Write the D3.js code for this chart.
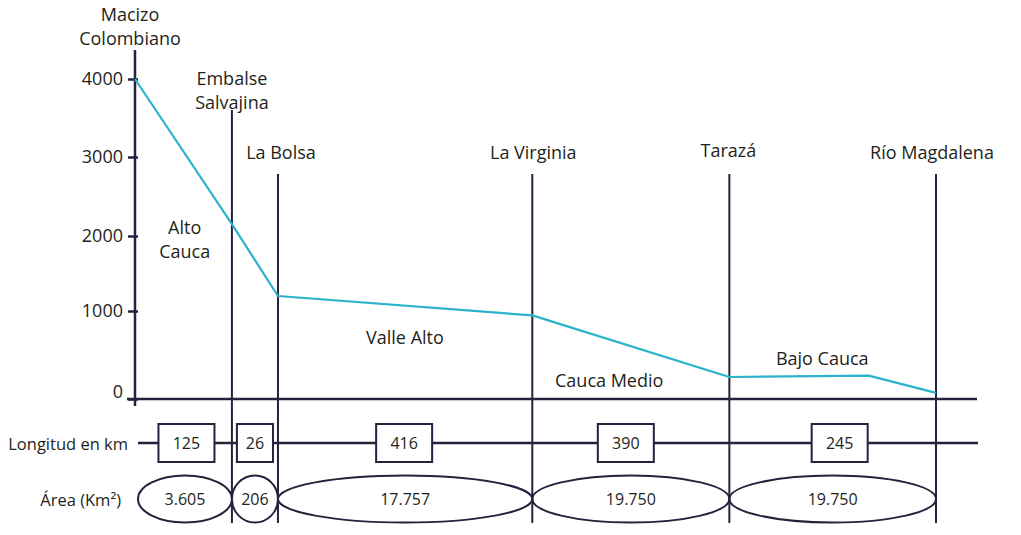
<!DOCTYPE html>
<html lang="es">
<head>
<meta charset="utf-8">
<title>Perfil del río Cauca</title>
<script src="https://cdn.jsdelivr.net/npm/d3@7"></script>
<style>
  html, body { margin: 0; padding: 0; background: #fff; }
  #perfil { display: block; }
  #perfil text { font-family: "Open Sans", "DejaVu Sans", sans-serif; fill: #231f20; }
</style>
</head>
<body>
<svg id="perfil" width="1021" height="535"></svg>
<script>
// stations along the river, schematic position in % of drawing length
var STATIONS    = [['Macizo', 'Colombiano'], ['Embalse', 'Salvajina'], ['La Bolsa'], ['La Virginia'], ['Tarazá'], ['Río Magdalena']];
var STATION_POS = [0, 12.1, 17.85, 49.6, 74.2, 100];

// elevation profile (msnm)
var PROFILE_POS  = [0, 12.1, 17.85, 49.6, 74.2, 91.6, 100];
var PROFILE_ELEV = [4000, 2150, 1200, 950, 250, 265, 70];

var ELEV_TICKS = [0, 1000, 2000, 3000, 4000];

// stretches between stations
var SEG_LENGTH = [125, 26, 416, 390, 245];
var SEG_AREA   = [3605, 206, 17757, 19750, 19750];

// region names (position in % / elevation of first line)
var REGIONS     = [['Alto', 'Cauca'], ['Valle Alto'], ['Cauca Medio'], ['Bajo Cauca']];
var REGION_POS  = [6.2, 33.7, 59.2, 85.8];
var REGION_ELEV = [2030, 625, 136, 386];

document.addEventListener('DOMContentLoaded', function () {

    var INK  = '#25223d';
    var CYAN = '#2ab3cb';

    var svg = d3.select('#perfil');

    var x = d3.scaleLinear().domain([0, 100]).range([135, 936]);
    // drawn axis is not quite even, so a polylinear scale
    var y = d3.scaleLinear().domain(ELEV_TICKS).range([399, 311, 236, 157, 79]);

    var esp = d3.formatLocale({ decimal: ',', thousands: '.', grouping: [3], currency: ['', ''] });
    var fmtArea = esp.format(',d');

    var BOTTOM   = 523;
    var LONG_Y   = 443;
    var AREA_Y   = 499;
    var lineTop  = [50, 110, 174, 174, 174, 174];
    var labelBot = [45, 109, 159, 159, 157, 159];
    var labelDx  = [-5, 0, 3, 1, -1, -4];
    var boxDx    = [3, 0, -1, -5, 7];

    // ===== station verticals =====
    STATION_POS.forEach(function (p, i) {
        if (i === 0) return;
        svg.append('line')
            .attr('x1', x(p)).attr('x2', x(p))
            .attr('y1', lineTop[i]).attr('y2', BOTTOM)
            .attr('stroke', INK).attr('stroke-width', 2);
    });

    // y axis line
    svg.append('line')
        .attr('x1', x(0)).attr('x2', x(0))
        .attr('y1', lineTop[0]).attr('y2', 406)
        .attr('stroke', INK).attr('stroke-width', 2.5);

    var yAxis = d3.axisLeft(y)
        .tickValues(ELEV_TICKS)
        .tickSize(10)
        .tickPadding(5)
        .tickFormat(d3.format('d'));

    var gy = svg.append('g')
        .attr('transform', 'translate(' + (x(0) + 3) + ',0)')
        .call(yAxis);
    gy.select('.domain').remove();
    gy.selectAll('.tick line').attr('stroke', INK).attr('stroke-width', 2.5);
    gy.selectAll('.tick text')
        .style('font-size', '18px')
        .style('font-family', '"Open Sans", sans-serif')
        .attr('fill', '#231f20');
    gy.selectAll('.tick').filter(function (d) { return d === 0; })
        .select('text').attr('y', -7);

    // x axis (0 m)
    svg.append('line')
        .attr('x1', 127).attr('x2', 977)
        .attr('y1', y(0)).attr('y2', y(0))
        .attr('stroke', INK).attr('stroke-width', 2.5);

    // ===== station labels =====
    STATIONS.forEach(function (lines, i) {
        var t = svg.append('text')
            .attr('text-anchor', 'middle')
            .style('font-size', '18px');
        lines.forEach(function (s, k) {
            t.append('tspan')
                .attr('x', x(STATION_POS[i]) + labelDx[i])
                .attr('y', labelBot[i] - (lines.length - 1 - k) * 24)
                .text(s);
        });
    });

    // ===== region labels =====
    REGIONS.forEach(function (lines, i) {
        var t = svg.append('text')
            .attr('text-anchor', 'middle')
            .style('font-size', '18px');
        lines.forEach(function (s, k) {
            t.append('tspan')
                .attr('x', x(REGION_POS[i]))
                .attr('y', y(REGION_ELEV[i]) + k * 24)
                .text(s);
        });
    });

    // ===== profile line =====
    var profile = PROFILE_POS.map(function (p, i) { return [p, PROFILE_ELEV[i]]; });
    svg.append('path')
        .datum(profile)
        .attr('d', d3.line().x(function (d) { return x(d[0]); }).y(function (d) { return y(d[1]); }))
        .attr('fill', 'none')
        .attr('stroke', CYAN)
        .attr('stroke-width', 2.2)
        .attr('stroke-linejoin', 'round');

    // ===== longitud row =====
    svg.append('text')
        .attr('x', 128).attr('y', LONG_Y)
        .attr('text-anchor', 'end')
        .attr('dominant-baseline', 'central')
        .style('font-size', '16.5px')
        .text('Longitud en km');

    svg.append('line')
        .attr('x1', 138).attr('x2', 978)
        .attr('y1', LONG_Y).attr('y2', LONG_Y)
        .attr('stroke', INK).attr('stroke-width', 2.5);

    SEG_LENGTH.forEach(function (v, i) {
        var a = x(STATION_POS[i]), b = x(STATION_POS[i + 1]);
        var mid = (a + b) / 2 + boxDx[i];
        var w = Math.min(56, b - a - 10);
        svg.append('rect')
            .attr('x', mid - w / 2).attr('y', LONG_Y - 19)
            .attr('width', w).attr('height', 38)
            .attr('fill', '#fff')
            .attr('stroke', INK).attr('stroke-width', 2);
        svg.append('text')
            .attr('x', mid).attr('y', LONG_Y)
            .attr('text-anchor', 'middle')
            .attr('dominant-baseline', 'central')
            .style('font-size', '16px')
            .text(v);
    });

    // ===== area row =====
    svg.append('text')
        .attr('x', 121).attr('y', AREA_Y)
        .attr('text-anchor', 'end')
        .attr('dominant-baseline', 'central')
        .style('font-size', '16.5px')
        .text('Área (Km²)');

    SEG_AREA.forEach(function (v, i) {
        var a = x(STATION_POS[i]) + (i === 0 ? 3 : 0), b = x(STATION_POS[i + 1]);
        var mid = (a + b) / 2;
        svg.append('ellipse')
            .attr('cx', mid).attr('cy', AREA_Y)
            .attr('rx', (b - a) / 2).attr('ry', 23.5)
            .attr('fill', 'none')
            .attr('stroke', INK).attr('stroke-width', 2);
        svg.append('text')
            .attr('x', mid).attr('y', AREA_Y)
            .attr('text-anchor', 'middle')
            .attr('dominant-baseline', 'central')
            .style('font-size', '16px')
            .text(fmtArea(v));
    });

});
</script>
</body>
</html>
